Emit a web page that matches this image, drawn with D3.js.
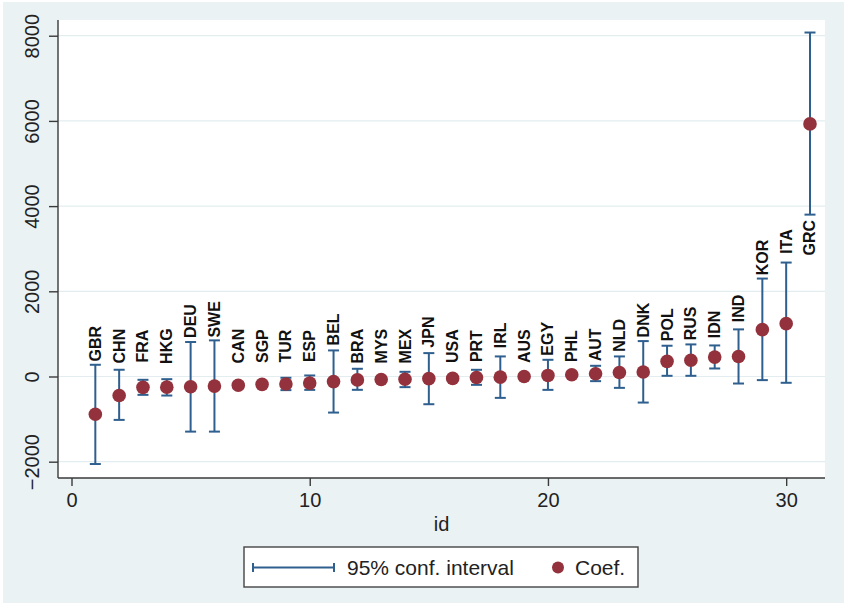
<!DOCTYPE html>
<html>
<head>
<meta charset="utf-8">
<script src="https://cdn.jsdelivr.net/npm/d3@7"></script>
<style>
  html, body { margin: 0; padding: 0; background: #ffffff; }
  svg { display: block; }
</style>
</head>
<body>
<svg id="chart" width="844" height="606"></svg>
<script>
// Country codes, sorted by estimated coefficient
const countries = ["GBR","CHN","FRA","HKG","DEU","SWE","CAN","SGP","TUR","ESP",
                   "BEL","BRA","MYS","MEX","JPN","USA","PRT","IRL","AUS","EGY",
                   "PHL","AUT","NLD","DNK","POL","RUS","IDN","IND","KOR","ITA","GRC"];
// Point estimates
const coef = [-885,-447,-255,-250,-240,-225,-205,-185,-175,-155,
              -120,-80,-72,-65,-50,-45,-25,-15,0,25,
              40,65,95,105,355,380,455,470,1100,1240,5930];
// 95% confidence bounds
const upper = [275,158,-78,-63,809,848,-135,-135,-30,24,
               612,181,-20,110,549,0,157,471,40,392,
               80,251,471,831,722,753,729,1106,2299,2675,8075];
const lower = [-2055,-1019,-431,-447,-1294,-1294,-275,-235,-320,-314,
               -847,-313,-120,-250,-651,-95,-196,-502,-40,-314,
               0,-109,-267,-612,16,16,188,-165,-85,-148,3800];
const ids = countries.map((_, i) => i + 1);

const yTicks = [-2000, 0, 2000, 4000, 6000, 8000];
const xTicks = [0, 10, 20, 30];
const xTitle = "id";
const legendLabels = ["95% conf. interval", "Coef."];

const data = ids.map((id, i) => ({
  id, name: countries[i], coef: coef[i], lo: lower[i], hi: upper[i]
}));

const svg = d3.select("#chart");
const W = 844, H = 606;
const plot = { left: 58, right: 825, top: 20, bottom: 478 };

const ciColor = "#2e5f8e";
const dotColor = "#93323c";
const font = "'Liberation Sans', Arial, sans-serif";

// Graph region background
svg.append("rect")
  .attr("x", 3).attr("y", 2).attr("width", W - 3).attr("height", 601)
  .attr("fill", "#eaf2f3");

// Plot region
svg.append("rect")
  .attr("x", plot.left).attr("y", plot.top)
  .attr("width", plot.right - plot.left).attr("height", plot.bottom - plot.top)
  .attr("fill", "#ffffff");

const x = d3.scaleLinear().domain([-0.567, 31.63]).range([plot.left, plot.right]);
const y = d3.scaleLinear().domain([-2383, 8369]).range([plot.bottom, plot.top]);

// Horizontal gridlines
svg.append("g").selectAll("line")
  .data(yTicks).join("line")
  .attr("x1", plot.left).attr("x2", plot.right)
  .attr("y1", d => y(d)).attr("y2", d => y(d))
  .attr("stroke", "#e3edf0").attr("stroke-width", 1.2);

// Y axis
const yAxis = svg.append("g")
  .attr("transform", `translate(${plot.left},0)`)
  .call(d3.axisLeft(y).tickValues(yTicks).tickFormat(d3.format("d")).tickSize(9).tickSizeOuter(0));
yAxis.select(".domain").attr("stroke", "#3a3a3a").attr("stroke-width", 1.4)
  .attr("d", `M0,${plot.top}V${plot.bottom}`);
yAxis.selectAll(".tick line").attr("stroke", "#3a3a3a").attr("stroke-width", 1.4);
yAxis.selectAll(".tick text")
  .attr("font-family", font).attr("font-size", 20).attr("fill", "#222")
  .attr("text-anchor", "middle")
  .attr("x", 0).attr("dy", 0)
  .attr("transform", "translate(-26,0) rotate(-90)")
  .attr("y", 0)
  .attr("dominant-baseline", "central");

// X axis
const xAxis = svg.append("g")
  .attr("transform", `translate(0,${plot.bottom})`)
  .call(d3.axisBottom(x).tickValues(xTicks).tickFormat(d3.format("d")).tickSize(8).tickSizeOuter(0));
xAxis.select(".domain").attr("stroke", "#3a3a3a").attr("stroke-width", 1.4)
  .attr("d", `M${plot.left},0H${plot.right}`);
xAxis.selectAll(".tick line").attr("stroke", "#3a3a3a").attr("stroke-width", 1.4);
xAxis.selectAll(".tick text")
  .attr("font-family", font).attr("font-size", 20).attr("fill", "#222")
  .attr("y", 15).attr("dy", "0.71em");

svg.append("text")
  .attr("x", (plot.left + plot.right) / 2).attr("y", 531)
  .attr("text-anchor", "middle")
  .attr("font-family", font).attr("font-size", 20).attr("fill", "#222")
  .text(xTitle);

// Confidence intervals with caps
const capHalf = 5.5;
const ci = svg.append("g").attr("stroke", ciColor).attr("stroke-width", 2);
ci.selectAll("line.stem").data(data).join("line").attr("class", "stem")
  .attr("x1", d => x(d.id)).attr("x2", d => x(d.id))
  .attr("y1", d => y(d.hi)).attr("y2", d => y(d.lo));
ci.selectAll("line.capHi").data(data).join("line").attr("class", "capHi")
  .attr("x1", d => x(d.id) - capHalf).attr("x2", d => x(d.id) + capHalf)
  .attr("y1", d => y(d.hi)).attr("y2", d => y(d.hi));
ci.selectAll("line.capLo").data(data).join("line").attr("class", "capLo")
  .attr("x1", d => x(d.id) - capHalf).attr("x2", d => x(d.id) + capHalf)
  .attr("y1", d => y(d.lo)).attr("y2", d => y(d.lo));

// Coefficient markers
svg.append("g").selectAll("circle").data(data).join("circle")
  .attr("cx", d => x(d.id)).attr("cy", d => y(d.coef)).attr("r", 6.8)
  .attr("fill", dotColor);

// Country labels: above the upper cap, or below the lower cap when there is no room
const labelFloor = 220;
svg.append("g").selectAll("text").data(data).join("text")
  .attr("font-family", font).attr("font-weight", "bold").attr("font-size", 16)
  .attr("fill", "#111").attr("text-anchor", "middle").attr("dominant-baseline", "central")
  .attr("transform", d => {
    let cy = y(Math.max(d.hi, labelFloor)) - 21;
    if (cy - 18 < plot.top) cy = y(d.lo) + 23;
    return `translate(${x(d.id)},${cy}) rotate(-90)`;
  })
  .text(d => d.name);

// Legend
const lg = svg.append("g");
lg.append("rect").attr("x", 244).attr("y", 547).attr("width", 394).attr("height", 40)
  .attr("fill", "#fff").attr("stroke", "#444").attr("stroke-width", 1.4);
const ly = 567.5;
lg.append("line").attr("x1", 253).attr("x2", 334).attr("y1", ly).attr("y2", ly)
  .attr("stroke", ciColor).attr("stroke-width", 2);
[253, 334].forEach(px => lg.append("line").attr("x1", px).attr("x2", px)
  .attr("y1", ly - 4.5).attr("y2", ly + 4.5).attr("stroke", ciColor).attr("stroke-width", 2));
lg.append("text").attr("x", 347).attr("y", ly).attr("dy", "0.36em")
  .attr("font-family", font).attr("font-size", 21).attr("fill", "#222")
  .text(legendLabels[0]);
lg.append("circle").attr("cx", 558).attr("cy", ly).attr("r", 6).attr("fill", dotColor);
lg.append("text").attr("x", 575).attr("y", ly).attr("dy", "0.36em")
  .attr("font-family", font).attr("font-size", 21).attr("fill", "#222")
  .text(legendLabels[1]);
</script>
</body>
</html>
